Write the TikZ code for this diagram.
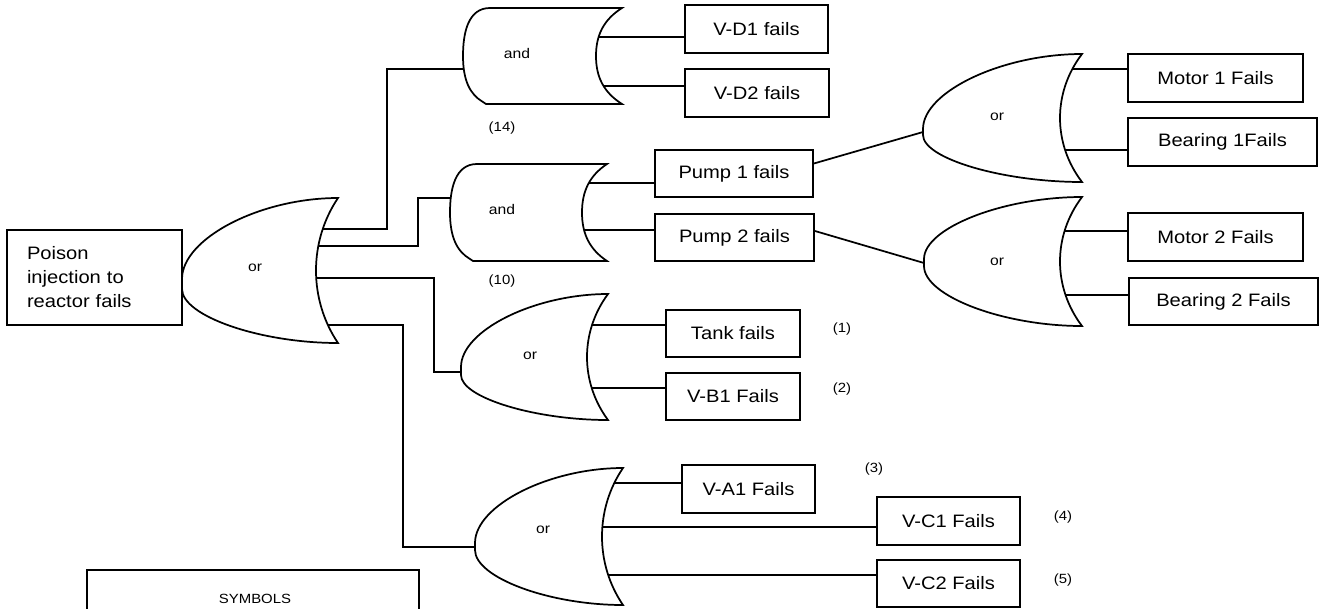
\documentclass[tikz,border=0pt]{standalone}
\usepackage{fontspec}
\setmainfont[FakeStretch=1.12]{Liberation Sans}
\newcommand\orgate[7]{% #1 tipx #2 ty1 #3 ty2 #4 backx #5 top #6 bot #7 innerx
\draw[gate] (#4,#5) .. controls ({#1+0.5*(#4-#1)},#5) and (#1,{#2-0.5*(#2-#5)}) .. (#1,#2) -- (#1,#3)
 .. controls (#1,{#3+0.5*(#6-#3)}) and ({#1+0.5*(#4-#1)},#6) .. (#4,#6)
 .. controls ({#4+(#7-#4)/0.75},{#6-0.3*(#6-#5)}) and ({#4+(#7-#4)/0.75},{#5+0.3*(#6-#5)}) .. cycle;}
\newcommand\andgate[6]{% #1 ltx #2 top #3 bot #4 lx #5 rx #6 irx
\draw[gate] (#1,#2) -- (#5,#2)
 .. controls ({#6+0.3*(#5-#6)},{#2+0.12*(#3-#2)}) and (#6,{#2+0.28*(#3-#2)}) .. (#6,{(#2+#3)/2})
 .. controls (#6,{#3-0.28*(#3-#2)}) and ({#6+0.3*(#5-#6)},{#3-0.12*(#3-#2)}) .. (#5,#3)
 -- ({#1-4},#3) -- ({#1-7},{#3-2})
 .. controls ({#4+0.25*(#1-#4)},{#3-0.1*(#3-#2)}) and (#4,{#3-0.25*(#3-#2)}) .. (#4,{(#2+#3)/2})
 .. controls (#4,{#2+0.25*(#3-#2)}) and ({#4+0.2*(#1-#4)},#2) .. cycle;}
\tikzset{
 ln/.style={line width=1.3pt},
 gate/.style={line width=1.3pt, fill=white},
 box/.style={draw, line width=1.3pt, fill=white, font=\fontsize{13.5}{18}\selectfont, inner sep=0pt},
 wh/.style 2 args={minimum width={#1*0.75pt}, minimum height={#2*0.75pt}},
 glabel/.style={font=\fontsize{10.5}{12}\selectfont},
 num/.style={font=\fontsize{10}{12}\selectfont},
}
\begin{document}
\begin{tikzpicture}[x=0.75pt,y=-0.75pt]
\useasboundingbox (0,0) rectangle (1320,608);
% boxes
\node[box, align=left, text width=101.25pt, inner xsep=15pt, minimum height=71.25pt] (top) at (94.5,277.5) {Poison\\injection to\\reactor fails};
\node[box, wh={143}{48}] (VD1) at (756.5,29) {V-D1 fails};
\node[box, wh={144}{48}] (VD2) at (757,93) {V-D2 fails};
\node[box, wh={158}{47}] (P1) at (734,173.5) {Pump 1 fails};
\node[box, wh={159}{47}] (P2) at (734.5,237.5) {Pump 2 fails};
\node[box, wh={175}{48}] (M1) at (1215.5,78) {Motor 1 Fails};
\node[box, wh={189}{48}] (B1) at (1222.5,142) {Bearing 1Fails};
\node[box, wh={175}{48}] (M2) at (1215.5,237) {Motor 2 Fails};
\node[box, wh={189}{47}] (B2) at (1223.5,301.5) {Bearing 2 Fails};
\node[box, wh={134}{47}] (T) at (733,333.5) {Tank fails};
\node[box, wh={134}{47}] (VB1) at (733,396.5) {V-B1 Fails};
\node[box, wh={133}{48}] (VA1) at (748.5,489) {V-A1 Fails};
\node[box, wh={143}{48}] (VC1) at (948.5,521) {V-C1 Fails};
\node[box, wh={143}{47}] (VC2) at (948.5,583.5) {V-C2 Fails};
\node[box, wh={332}{110}] (sym) at (253,625) {};
\node[num] (symt) at (255,599) {SYMBOLS};
% gate ports
\coordinate (m1) at (312,229); \coordinate (m2) at (312,246);
\coordinate (m3) at (312,278); \coordinate (m4) at (312,325);
\coordinate (a1in) at (464,69); \coordinate (a2in) at (451,198);
\coordinate (cin) at (461,372); \coordinate (din) at (475,547);
\coordinate (a1o1) at (590,37); \coordinate (a1o2) at (590,86);
\coordinate (a2o1) at (576,183); \coordinate (a2o2) at (576,230);
\coordinate (ain) at (923,132); \coordinate (bin) at (924,263);
\coordinate (ao1) at (1055,69); \coordinate (ao2) at (1055,150);
\coordinate (bo1) at (1055,231); \coordinate (bo2) at (1055,295);
\coordinate (co1) at (582,325); \coordinate (co2) at (582,388);
\coordinate (do1) at (597,483); \coordinate (do2) at (597,527); \coordinate (do3) at (597,575);
% connectors
\draw[ln] (m1) -| (387,69) -- (a1in);
\draw[ln] (m2) -| (418,198) -- (a2in);
\draw[ln] (m3) -| (434,372) -- (cin);
\draw[ln] (m4) -| (403,547) -- (din);
\draw[ln] (a1o1) -- (a1o1 -| VD1.west);
\draw[ln] (a1o2) -- (a1o2 -| VD2.west);
\draw[ln] (a2o1) -- (a2o1 -| P1.west);
\draw[ln] (a2o2) -- (a2o2 -| P2.west);
\draw[ln] ([yshift=7.5pt]P1.east) -- (ain);
\draw[ln] ([yshift=4.9pt]P2.east) -- (bin);
\draw[ln] (ao1) -- (ao1 -| M1.west);
\draw[ln] (ao2) -- (ao2 -| B1.west);
\draw[ln] (bo1) -- (bo1 -| M2.west);
\draw[ln] (bo2) -- (bo2 -| B2.west);
\draw[ln] (co1) -- (co1 -| T.west);
\draw[ln] (co2) -- (co2 -| VB1.west);
\draw[ln] (do1) -- (do1 -| VA1.west);
\draw[ln] (do2) -- (do2 -| VC1.west);
\draw[ln] (do3) -- (do3 -| VC2.west);
% gates
\orgate{182}{279}{289}{338}{198}{343}{316}
\andgate{490}{8}{104}{463}{622}{596}
\andgate{477}{164}{261}{450}{607}{582}
\orgate{923}{129}{135}{1082}{54}{182}{1060}
\orgate{924}{259}{266}{1082}{197}{326}{1060}
\orgate{461}{367}{375}{608}{294}{420}{587}
\orgate{475}{543}{550}{623}{468}{605}{602}
% gate labels
\node[glabel] (l0) at (255,268) {or};
\node[glabel] (l1) at (517,53) {and};
\node[glabel] (l2) at (502,209) {and};
\node[glabel] (l3) at (997,117) {or};
\node[glabel] (l4) at (997,262) {or};
\node[glabel] (l5) at (530,356) {or};
\node[glabel] (l6) at (543,530) {or};
% numbers
\node[num] (n14) at (502,128) {(14)};
\node[num] (n10) at (502,281) {(10)};
\node[num] (n1) at (842,329) {(1)};
\node[num] (n2) at (842,389) {(2)};
\node[num] (n3) at (874,469) {(3)};
\node[num] (n4) at (1063,517) {(4)};
\node[num] (n5) at (1063,580) {(5)};
\end{tikzpicture}
\end{document}
